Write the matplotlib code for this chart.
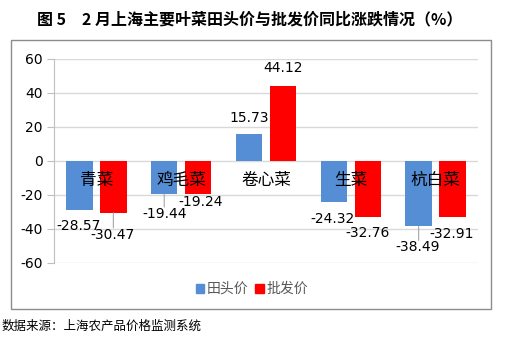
import matplotlib
matplotlib.use("Agg")
import matplotlib.pyplot as plt
from matplotlib.patches import Rectangle

plt.rcParams['font.family'] = ['Noto Sans CJK SC', 'DejaVu Sans']

categories = ['青菜', '鸡毛菜', '卷心菜', '生菜', '杭白菜']
farm_price = [-28.57, -19.44, 15.73, -24.32, -38.49]
wholesale_price = [-30.47, -19.24, 44.12, -32.76, -32.91]
series_names = ['田头价', '批发价']
yticks = [-60, -40, -20, 0, 20, 40, 60]

# label offsets in pixels (dx, dy) from bar end; leader flag
farm_off = [(-1, -16, False), (0, -20, True), (0, 16, False), (-1, -17, False), (-1, -21, True)]
whole_off = [(-1, -22, True), (2, -8, False), (0, 18, False), (0, -16, False), (-1, -17, False)]

W, H = 510, 351
fig = plt.figure(figsize=(W / 100, H / 100), dpi=100)

# chart frame
fig.patches.append(Rectangle((11 / W, 1 - 309 / H), 480 / W, 269 / H, transform=fig.transFigure,
                             fill=False, edgecolor='#8c8c8c', linewidth=1.0))

ax = fig.add_axes([54 / W, 1 - 263 / H, (478 - 54) / W, (263 - 59) / H])
ax.set_xlim(0, 5)
ax.set_ylim(-60, 60)
ax.set_yticks(yticks)
ax.set_yticklabels([str(t) for t in yticks], fontsize=10, family='DejaVu Sans')
ax.set_xticks([])
for s in ['top', 'right', 'bottom']:
    ax.spines[s].set_visible(False)
ax.spines['left'].set_color('#bfbfbf')
ax.tick_params(axis='y', length=5, color='#bfbfbf', pad=3, labelcolor='black')
ax.grid(axis='y', color='#d9d9d9', linewidth=1.0)
ax.set_axisbelow(True)

xs = [i + 0.5 for i in range(len(categories))]
bw = 0.31
blue, red = '#558ed5', '#ff0000'
ax.bar([x - 0.2 for x in xs], farm_price, width=bw, color=blue, label=series_names[0], zorder=2)
ax.bar([x + 0.2 for x in xs], wholesale_price, width=bw, color=red, label=series_names[1], zorder=2)

def put_labels(vals, dxoff, offs):
    for x, v, (dx, dy, leader) in zip(xs, vals, offs):
        bx = x + dxoff
        ax.annotate(f'{v:.2f}', xy=(bx, v), xytext=(dx, dy), textcoords='offset pixels',
                    ha='center', va='center', fontsize=10, family='DejaVu Sans', zorder=4)
        if leader:
            end = dy + 7 if dy < 0 else dy - 7
            ax.annotate('', xy=(bx, v), xytext=(0, end), textcoords='offset pixels',
                        arrowprops=dict(arrowstyle='-', color='#a6a6a6', lw=0.8,
                                        shrinkA=0, shrinkB=0))

put_labels(farm_price, -0.2, farm_off)
put_labels(wholesale_price, 0.2, whole_off)

for x, c in zip(xs, categories):
    ax.annotate(c, xy=(x, 0), xytext=(0, -19), textcoords='offset pixels',
                ha='center', va='center', fontsize=12, zorder=5)

handles = [Rectangle((0, 0), 1, 1, color=blue), Rectangle((0, 0), 1, 1, color=red)]
fig.legend(handles, series_names, loc='center', bbox_to_anchor=(252 / W, 1 - 289 / H),
           ncol=2, frameon=False, fontsize=10, handlelength=0.6, handleheight=0.6,
           handletextpad=0.2, columnspacing=0.5, labelcolor='#595959')

fig.text(250 / W, 1 - 19 / H, '图 5　2 月上海主要叶菜田头价与批发价同比涨跌情况（%）',
         ha='center', va='center', fontsize=11.5, fontweight='bold')
fig.text(2 / W, 1 - 326 / H, '数据来源：上海农产品价格监测系统', ha='left', va='center', fontsize=9)

fig.savefig('out.png', dpi=100)
